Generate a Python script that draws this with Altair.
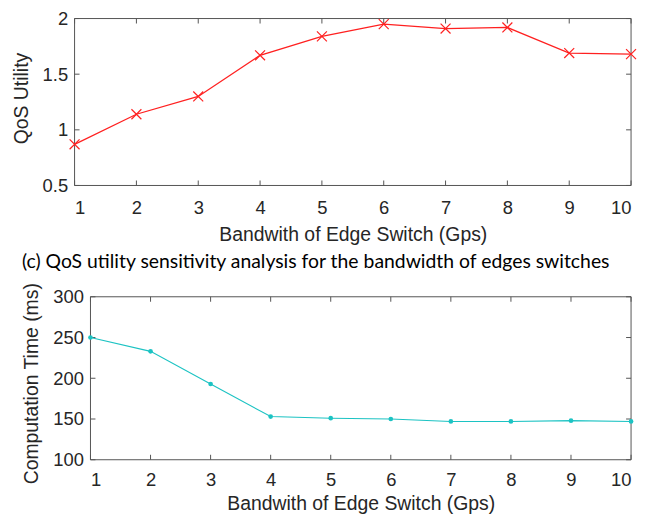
import altair as alt
import pandas as pd

# ---- data ----
bandwidth = [1, 2, 3, 4, 5, 6, 7, 8, 9, 10]
qos_utility = [0.87, 1.14, 1.30, 1.67, 1.84, 1.95, 1.91, 1.92, 1.69, 1.68]
computation_time = [250, 233, 193, 153, 151, 150, 147, 147, 148, 147]
qos_ticks = [0.5, 1.0, 1.5, 2.0]
time_ticks = [100, 150, 200, 250, 300]
caption_text = ["(c) QoS utility sensitivity analysis for the bandwidth of edges switches"]

FONT = "Liberation Sans"
AX = "#555555"
TXT = "#262626"
X_PATH = "M-1,-1L1,1M-1,1L1,-1"
LABEL_FS = 18.5
TITLE_FS = 19.5


def panel(values, ycol, ydomain, yticks, yfmt, ytitle, x0, W, H, ytitle_x, ytitle_y,
          xtitle_y, label_pad, color, line_w, marker):
    """x0: left inset of the plot box inside the view; W: box width."""
    df = pd.DataFrame({"bw": bandwidth, ycol: values})
    xdf = pd.DataFrame({"bw": bandwidth})
    ydf = pd.DataFrame({ycol: yticks})
    xenc = alt.X("bw:Q", scale=alt.Scale(domain=[1, 10], nice=False, zero=False, range=[x0, x0 + W]),
                 axis=alt.Axis(values=bandwidth, format="d", title="Bandwith of Edge Switch (Gps)",
                               domain=False, ticks=False, grid=False, labelPadding=label_pad,
                               titleY=xtitle_y))
    yenc = alt.Y(f"{ycol}:Q", scale=alt.Scale(domain=ydomain, nice=False, zero=False),
                 axis=alt.Axis(values=yticks, format=yfmt, title=ytitle, domain=False,
                               ticks=False, grid=False, labelPadding=7, titleX=ytitle_x,
                               titleY=ytitle_y, offset=-x0))
    frame = alt.Chart(pd.DataFrame({"f": [0]})).mark_rect(
        fill=None, stroke=AX, strokeWidth=1).encode(
        x=alt.value(x0), x2=alt.value(x0 + W), y=alt.value(0), y2=alt.value(H))
    line = alt.Chart(df).mark_line(color=color, strokeWidth=line_w).encode(x=xenc, y=yenc)
    if marker == "x":
        pts = alt.Chart(df).mark_point(shape=X_PATH, size=100, color=color, strokeWidth=1.2,
                                       filled=False, opacity=1).encode(x=xenc, y=yenc)
    else:
        pts = alt.Chart(df).mark_point(shape="circle", size=22, color=color, filled=True,
                                       opacity=1).encode(x=xenc, y=yenc)
    tb = alt.Chart(xdf).mark_rule(color=AX, strokeWidth=1).encode(
        x=xenc, y=alt.value(H), y2=alt.value(H - 5))
    tt = alt.Chart(xdf).mark_rule(color=AX, strokeWidth=1).encode(
        x=xenc, y=alt.value(0), y2=alt.value(5))
    tl = alt.Chart(ydf).mark_rule(color=AX, strokeWidth=1).encode(
        y=yenc, x=alt.value(x0), x2=alt.value(x0 + 5))
    tr = alt.Chart(ydf).mark_rule(color=AX, strokeWidth=1).encode(
        y=yenc, x=alt.value(x0 + W - 5), x2=alt.value(x0 + W))
    return alt.layer(frame, tb, tt, tl, tr, line, pts).properties(width=x0 + W, height=H)


top = panel(qos_utility, "qos", [0.5, 2.0], qos_ticks, "~g", "QoS Utility",
            0, 560, 168, -43, 80, 40.5, 13, "#ff2020", 1.3, "x")
bottom = panel(computation_time, "time", [100, 300], time_ticks, "d", "Computation Time (ms)",
               16, 544, 164, -49, 87, 35, 10.5, "#1cc3c3", 1.1, "dot")

caption = alt.Chart(pd.DataFrame({"t": caption_text})).mark_text(
    align="left", baseline="alphabetic", font="Lato", fontSize=19.5, color="#000000"
).encode(x=alt.value(-53), y=alt.value(24), text="t:N").properties(width=500, height=38)

chart = alt.vconcat(top, caption, bottom, spacing=0).properties(
    padding={"left": 3, "top": 0, "right": 0, "bottom": 0}
).configure_view(strokeWidth=0).configure_axis(
    labelFont=FONT, titleFont=FONT, labelFontSize=LABEL_FS, titleFontSize=TITLE_FS,
    labelColor=TXT, titleColor=TXT, titleFontWeight="normal"
)

chart.save("out.html", embed_options={"renderer": "svg", "actions": False})
